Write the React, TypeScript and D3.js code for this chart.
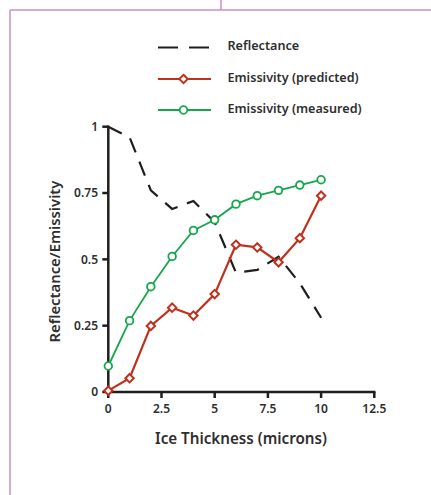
import React from 'react';
import * as d3 from 'd3';

// ice thickness in microns
const thickness = [0, 1, 2, 3, 4, 5, 6, 7, 8, 9, 10];
const reflectance = [1.0, 0.96, 0.76, 0.69, 0.72, 0.64, 0.45, 0.46, 0.51, 0.41, 0.28];
const emisPredicted = [0.005, 0.052, 0.249, 0.318, 0.288, 0.369, 0.555, 0.545, 0.489, 0.58, 0.74];
const emisMeasured = [0.098, 0.269, 0.397, 0.511, 0.609, 0.649, 0.708, 0.74, 0.76, 0.78, 0.8];

const xTicks = [0, 2.5, 5, 7.5, 10, 12.5];
const yTicks = [0, 0.25, 0.5, 0.75, 1];
const legendNames = ['Reflectance', 'Emissivity (predicted)', 'Emissivity (measured)'];

const W = 431;
const H = 495;
const FONT = "'Noto Sans', 'DejaVu Sans', sans-serif";
const RED = '#c0311d';
const GREEN = '#14a84a';
const INK = '#1e1e1e';
const TEXT = '#2e2e2e';
const FRAME = '#c98fc9';

const App = () => {
  const x = d3.scaleLinear().domain([0, 12.5]).range([108.3, 374.3]);
  const y = d3.scaleLinear().domain([0, 1]).range([392, 126.7]);

  const line = (vals: number[]) =>
    d3
      .line<number>()
      .x((d, i) => x(thickness[i]))
      .y(d => y(d))(vals) || '';

  const diamond = 'M0,-4.2L4.2,0L0,4.2L-4.2,0Z';

  return (
    <svg
      width={W}
      height={H}
      style={{ position: 'absolute', left: 0, top: 0, background: '#fff' }}
      fontFamily={FONT}
    >
      {/* frame */}
      <g stroke={FRAME} strokeWidth={1.5} fill="none">
        <line x1={10} y1={10} x2={W} y2={10} />
        <line x1={10} y1={10} x2={10} y2={H} />
        <line x1={221} y1={0} x2={221} y2={10} />
      </g>

      {/* legend */}
      <g fontSize={12.6} fontWeight={600} fill={TEXT}>
        <line x1={158} x2={211} y1={47.5} y2={47.5} stroke={INK} strokeWidth={2} strokeDasharray="20 11" />
        <text x={227.5} y={46} dy="0.35em">{legendNames[0]}</text>
        <line x1={158} x2={211} y1={79} y2={79} stroke={RED} strokeWidth={2.2} />
        <path d={diamond} transform="translate(183.5,79)" fill="#fff" stroke={RED} strokeWidth={2} />
        <text x={227.5} y={77.5} dy="0.35em">{legendNames[1]}</text>
        <line x1={158} x2={211} y1={110} y2={110} stroke={GREEN} strokeWidth={2} />
        <circle cx={183.5} cy={110} r={3.8} fill="#fff" stroke={GREEN} strokeWidth={1.8} />
        <text x={227.5} y={108.5} dy="0.35em">{legendNames[2]}</text>
      </g>

      {/* axes */}
      <g stroke={INK} strokeWidth={2.5}>
        <line x1={x(0) - 1} x2={x(12.5) + 1.2} y1={y(0)} y2={y(0)} />
        <line x1={x(0)} x2={x(0)} y1={y(0)} y2={y(1) - 1.2} />
        {xTicks.map(t => (
          <line key={'xt' + t} x1={x(t)} x2={x(t)} y1={y(0)} y2={y(0) + 6} />
        ))}
        {yTicks.map(t => (
          <line key={'yt' + t} x1={x(0) - 6} x2={x(0)} y1={y(t)} y2={y(t)} />
        ))}
      </g>
      <g fontSize={12} fontWeight={600} fill={TEXT}>
        {xTicks.map(t => (
          <text key={'xl' + t} x={x(t)} y={409} dy="0.35em" textAnchor="middle">
            {d3.format('')(t)}
          </text>
        ))}
        {yTicks.map(t => (
          <text key={'yl' + t} x={98} y={y(t)} dy="0.35em" textAnchor="end">
            {d3.format('')(t)}
          </text>
        ))}
      </g>
      <text x={241} y={439} dy="0.35em" textAnchor="middle" fontSize={15.2} fontWeight={600} fill={TEXT}>
        Ice Thickness (microns)
      </text>
      <text
        transform="translate(55,261.5) rotate(-90)"
        dy="0.35em"
        textAnchor="middle"
        fontSize={14.8}
        fontWeight={600}
        fill={TEXT}
      >
        Reflectance/Emissivity
      </text>

      {/* series */}
      <path d={line(reflectance)} fill="none" stroke={INK} strokeWidth={2.2} strokeDasharray="15 10" />
      <path d={line(emisPredicted)} fill="none" stroke={RED} strokeWidth={2.2} />
      {emisPredicted.map((v, i) => (
        <path
          key={'p' + i}
          d={diamond}
          transform={`translate(${x(thickness[i])},${y(v)})`}
          fill="#fff"
          stroke={RED}
          strokeWidth={2}
        />
      ))}
      <path d={line(emisMeasured)} fill="none" stroke={GREEN} strokeWidth={1.8} />
      {emisMeasured.map((v, i) => (
        <circle key={'m' + i} cx={x(thickness[i])} cy={y(v)} r={3.8} fill="#fff" stroke={GREEN} strokeWidth={1.8} />
      ))}
    </svg>
  );
};

export default App;
